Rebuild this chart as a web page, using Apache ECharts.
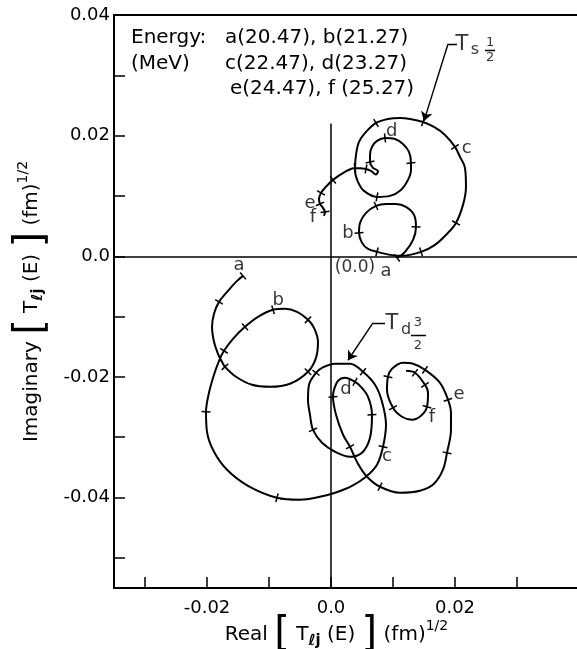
<!DOCTYPE html>
<html>
<head>
<meta charset="utf-8">
<title>T-matrix trajectories</title>
<script src="https://cdn.jsdelivr.net/npm/echarts@6/dist/echarts.min.js"></script>
<style>
    html, body { margin: 0; padding: 0; background: #fff; }
    #chart { width: 577px; height: 649px; }
</style>
</head>
<body>
<div id="chart"></div>
<script>
// T s1/2 trajectory, [Re, Im] in (fm)^1/2
var sCurve = [
    [0.01065, -0.00027], [0.01194, 0.00073], [0.01323, 0.00272], [0.01371, 0.00487], [0.01339, 0.00686],
    [0.01210, 0.00819], [0.01048, 0.00868], [0.00887, 0.00868], [0.00726, 0.00835], [0.00565, 0.00719],
    [0.00468, 0.00553], [0.00452, 0.00388], [0.00500, 0.00222], [0.00597, 0.00123], [0.00742, 0.00073],
    [0.00952, 0.00023], [0.01129, 0.00007], [0.01452, 0.00073], [0.01677, 0.00189], [0.01871, 0.00371],
    [0.02016, 0.00553], [0.02129, 0.00852], [0.02177, 0.01150], [0.02161, 0.01465], [0.02081, 0.01647],
    [0.02000, 0.01813], [0.01839, 0.02012], [0.01661, 0.02144], [0.01484, 0.02227], [0.01274, 0.02277],
    [0.01113, 0.02293], [0.00919, 0.02277], [0.00726, 0.02210], [0.00565, 0.02061], [0.00452, 0.01896],
    [0.00403, 0.01680], [0.00387, 0.01432], [0.00435, 0.01233], [0.00532, 0.01084], [0.00742, 0.00984],
    [0.00952, 0.01001], [0.01129, 0.01100], [0.01242, 0.01266], [0.01290, 0.01432], [0.01290, 0.01548],
    [0.01258, 0.01730], [0.01161, 0.01862], [0.01032, 0.01945], [0.00871, 0.01962], [0.00742, 0.01912],
    [0.00661, 0.01813], [0.00629, 0.01680], [0.00629, 0.01564], [0.00677, 0.01465], [0.00758, 0.01415],
    [0.00726, 0.01357], [0.00645, 0.01415], [0.00565, 0.01448], [0.00387, 0.01465], [0.00226, 0.01399],
    [0.00032, 0.01266], [-0.00097, 0.01133], [-0.00161, 0.01051], [-0.00194, 0.00951], [-0.00177, 0.00868],
    [-0.00129, 0.00802], [-0.00097, 0.00736], [-0.00113, 0.00669]
];
// energy marks on the s curve (indices into sCurve)
var sTicks = [0, 3, 8, 11, 14, 17, 20, 25, 28, 32, 39, 44, 48, 52, 57, 58, 60, 62, 64, 66];

// T d3/2 trajectory
var dCurve = [
    [-0.01419, -0.00325], [-0.01532, -0.00424], [-0.01661, -0.00573], [-0.01806, -0.00756], [-0.01887, -0.00954],
    [-0.01919, -0.01170], [-0.01887, -0.01418], [-0.01823, -0.01617], [-0.01758, -0.01750], [-0.01710, -0.01833],
    [-0.01532, -0.01998], [-0.01274, -0.02131], [-0.00984, -0.02164], [-0.00661, -0.02114], [-0.00371, -0.01915],
    [-0.00242, -0.01684], [-0.00210, -0.01418], [-0.00274, -0.01186], [-0.00371, -0.01054], [-0.00548, -0.00921],
    [-0.00742, -0.00872], [-0.00935, -0.00888], [-0.01177, -0.01004], [-0.01387, -0.01170], [-0.01581, -0.01369],
    [-0.01726, -0.01568], [-0.01806, -0.01733], [-0.01887, -0.01965], [-0.01968, -0.02263], [-0.02016, -0.02578],
    [-0.02000, -0.02910], [-0.01887, -0.03241], [-0.01677, -0.03539], [-0.01339, -0.03805], [-0.00871, -0.04003],
    [-0.00500, -0.04036], [-0.00177, -0.03987], [0.00065, -0.03920], [0.00339, -0.03805], [0.00565, -0.03655],
    [0.00742, -0.03457], [0.00839, -0.03158], [0.00887, -0.02794], [0.00823, -0.02413], [0.00710, -0.02131],
    [0.00516, -0.01915], [0.00306, -0.01783], [0.00065, -0.01783], [-0.00145, -0.01849], [-0.00242, -0.01932],
    [-0.00355, -0.02131], [-0.00371, -0.02379], [-0.00339, -0.02628], [-0.00290, -0.02877], [-0.00145, -0.03092],
    [0.00065, -0.03241], [0.00306, -0.03324], [0.00500, -0.03258], [0.00629, -0.03009], [0.00661, -0.02628],
    [0.00597, -0.02330], [0.00468, -0.02148], [0.00387, -0.02081], [0.00226, -0.02015], [0.00113, -0.02065],
    [0.00048, -0.02214], [0.00032, -0.02330], [0.00081, -0.02628], [0.00194, -0.02959], [0.00306, -0.03158],
    [0.00435, -0.03440], [0.00581, -0.03655], [0.00790, -0.03821], [0.01113, -0.03920], [0.01435, -0.03887],
    [0.01661, -0.03771], [0.01806, -0.03539], [0.01871, -0.03258], [0.01935, -0.02877], [0.01935, -0.02595],
    [0.01887, -0.02379], [0.01758, -0.02098], [0.01516, -0.01882], [0.01323, -0.01783], [0.01161, -0.01766],
    [0.00984, -0.01866], [0.00919, -0.01998], [0.00903, -0.02214], [0.01000, -0.02512], [0.01145, -0.02661],
    [0.01306, -0.02711], [0.01452, -0.02645], [0.01548, -0.02495], [0.01565, -0.02263], [0.01516, -0.02131],
    [0.01355, -0.01932], [0.01210, -0.01899]
];
var dTicks = [0, 3, 9, 14, 18, 21, 23, 25, 29, 34, 41, 45, 49, 53, 59, 62, 66, 69, 72, 77, 80, 82, 86, 88, 92, 94, 95];

// energy letters and where they sit
var letters = ['a', 'b', 'c', 'd', 'e', 'f'];
var sLetterPos = [[0.00887, -0.00242], [0.00274, 0.00388], [0.02189, 0.01791], [0.00979, 0.02066], [-0.00339, 0.00885], [-0.00290, 0.00653]];
var dLetterPos = [[-0.01484, -0.00143], [-0.00850, -0.00734], [0.00903, -0.03324], [0.00242, -0.02214], [0.02065, -0.02297], [0.01629, -0.02678]];
var originPos = [0.00387, -0.00192];

// curve names with their leader lines
var sLeader = [[0.02032, 0.03519], [0.01887, 0.03519]];
var sArrow = [[0.01887, 0.03519], [0.01500, 0.02244]];
var dLeader = [[0.00871, -0.01104], [0.00677, -0.01104]];
var dArrow = [[0.00677, -0.01104], [0.00274, -0.01724]];
var sNameParts = [['T', 0.02113, 0.03503, 21], ['s', 0.02323, 0.03420, 16], ['1', 0.02565, 0.03536, 13], ['2', 0.02565, 0.03287, 13]];
var sFracBar = [[0.02484, 0.03412], [0.02645, 0.03412]];
var dNameParts = [['T', 0.00984, -0.01120, 21], ['d', 0.01210, -0.01220, 16], ['3', 0.01403, -0.01104, 13], ['2', 0.01403, -0.01485, 13]];
var dFracBar = [[0.01290, -0.01306], [0.01532, -0.01306]];

var energyRows = [
    ['Energy:', 'a(20.47), b(21.27)'],
    ['(MeV)', 'c(22.47), d(23.27)'],
    ['', 'e(24.47), f (25.27)']
];

var xTickValues = [-0.03, -0.02, -0.01, 0, 0.01, 0.02, 0.03];
var xLabelValues = [-0.02, 0, 0.02];
var yTickValues = [-0.05, -0.04, -0.03, -0.02, -0.01, 0, 0.01, 0.02, 0.03, 0.04];
var yLabelValues = [-0.04, -0.02, 0, 0.02, 0.04];

var FONT = 'DejaVu Sans';

function fmt(v) {
    return v === 0 ? '0.0' : v.toFixed(2);
}

// small perpendicular marks at given points of a curve
function tickData(curve, idx) {
    return idx.map(function (i) {
        var p = curve[i];
        var a = curve[Math.max(i - 1, 0)];
        var b = curve[Math.min(i + 1, curve.length - 1)];
        return [p[0], p[1], a[0], a[1], b[0], b[1]];
    });
}

function renderTick(params, api) {
    var p = api.coord([api.value(0), api.value(1)]);
    var a = api.coord([api.value(2), api.value(3)]);
    var b = api.coord([api.value(4), api.value(5)]);
    var dx = b[0] - a[0], dy = b[1] - a[1];
    var len = Math.sqrt(dx * dx + dy * dy) || 1;
    var nx = -dy / len * 4.5, ny = dx / len * 4.5;
    return {
        type: 'line',
        shape: { x1: p[0] - nx, y1: p[1] - ny, x2: p[0] + nx, y2: p[1] + ny },
        style: { stroke: '#000', lineWidth: 1.5 }
    };
}

function letterData(pos) {
    return pos.map(function (p, i) { return { name: letters[i], value: p }; });
}

function partData(parts) {
    return parts.map(function (p) {
        return { name: p[0], value: [p[1], p[2]], label: { fontSize: p[3] } };
    });
}

var nameRich = {
    t: { fontSize: 20, color: '#000', fontFamily: FONT },
    br: { fontSize: 40, color: '#000', fontFamily: FONT },
    sub: { fontSize: 15, color: '#000', fontFamily: FONT, fontWeight: 'bold', verticalAlign: 'bottom', padding: [0, 0, 6, 0] },
    sup: { fontSize: 14, color: '#000', fontFamily: FONT, verticalAlign: 'top', padding: [4, 0, 0, 0] }
};
var nameTail = '{br|[}{t| T}{sub|ℓj}{t| (E) }{br|]}{t| (fm)}{sup|1/2}';

var graphics = [];
energyRows.forEach(function (row, i) {
    var y = 38 + i * 25.5;
    graphics.push({ type: 'text', x: 131, y: y, style: { text: row[0], fontSize: 20, fontFamily: FONT, fill: '#000', verticalAlign: 'middle' } });
    graphics.push({ type: 'text', x: i === 2 ? 230 : 225, y: y, style: { text: row[1], fontSize: 20, fontFamily: FONT, fill: '#000', verticalAlign: 'middle' } });
});

var labelSeries = function (data, size) {
    return {
        type: 'scatter', symbolSize: 0, silent: true, z: 5,
        data: data,
        label: { show: true, position: 'inside', formatter: '{b}', color: '#000', fontSize: size, fontFamily: FONT }
    };
};

var chart = echarts.init(document.getElementById('chart'));
var option = {
    animation: false,
    backgroundColor: '#fff',
    grid: {
        left: 114, top: 15, width: 465, height: 573,
        outerBoundsMode: 'none', containLabel: false,
        show: true, borderColor: '#000', borderWidth: 2, backgroundColor: 'transparent'
    },
    xAxis: {
        type: 'value', min: -0.035, max: 0.04,
        axisLine: { show: false, onZero: false },
        splitLine: { show: false },
        axisTick: { show: true, inside: true, length: 11, customValues: xTickValues, lineStyle: { color: '#000', width: 1.5 } },
        axisLabel: { customValues: xLabelValues, formatter: fmt, color: '#000', fontSize: 18, margin: 11, fontFamily: FONT },
        name: '{t|Real }' + nameTail,
        nameLocation: 'middle', nameGap: 27, nameMoveOverlap: false,
        nameTextStyle: { rich: nameRich, padding: [0, 20, 0, 0] }
    },
    yAxis: {
        type: 'value', min: -0.055, max: 0.04,
        axisLine: { show: false, onZero: false },
        splitLine: { show: false },
        axisTick: { show: true, inside: true, length: 11, customValues: yTickValues, lineStyle: { color: '#000', width: 1.5 } },
        axisLabel: { customValues: yLabelValues, formatter: fmt, color: '#000', fontSize: 18, margin: 4, fontFamily: FONT },
        name: '{t|Imaginary }' + nameTail,
        nameLocation: 'middle', nameGap: 62, nameRotate: 90,
        nameTextStyle: { rich: nameRich }
    },
    graphic: graphics,
    series: [
        {
            type: 'line', data: sCurve, smooth: 0.35, symbol: 'none',
            lineStyle: { color: '#000', width: 2 },
            markLine: {
                silent: true, symbol: 'none', label: { show: false },
                lineStyle: { color: '#000', width: 1.5, type: 'solid' },
                data: [[{ coord: [0, 0.022] }, { coord: [0, -0.055] }], { yAxis: 0 }]
            }
        },
        {
            type: 'line', data: dCurve, smooth: 0.35, symbol: 'none',
            lineStyle: { color: '#000', width: 2 }
        },
        { type: 'custom', renderItem: renderTick, data: tickData(sCurve, sTicks), encode: { x: 0, y: 1 }, silent: true },
        { type: 'custom', renderItem: renderTick, data: tickData(dCurve, dTicks), encode: { x: 0, y: 1 }, silent: true },
        {
            type: 'lines', coordinateSystem: 'cartesian2d', silent: true,
            symbol: 'none', lineStyle: { color: '#000', width: 1.4, opacity: 1 },
            data: [{ coords: sLeader }, { coords: dLeader }, { coords: sFracBar }, { coords: dFracBar }]
        },
        {
            type: 'lines', coordinateSystem: 'cartesian2d', silent: true,
            symbol: ['none', 'arrow'], symbolSize: 9, lineStyle: { color: '#000', width: 1.4, opacity: 1 },
            data: [{ coords: sArrow }, { coords: dArrow }]
        },
        labelSeries(letterData(sLetterPos), 18),
        labelSeries(letterData(dLetterPos), 18),
        labelSeries([{ name: '(0.0)', value: originPos }], 17),
        labelSeries(partData(sNameParts), 20),
        labelSeries(partData(dNameParts), 20)
    ]
};
chart.setOption(option);
</script>
</body>
</html>
